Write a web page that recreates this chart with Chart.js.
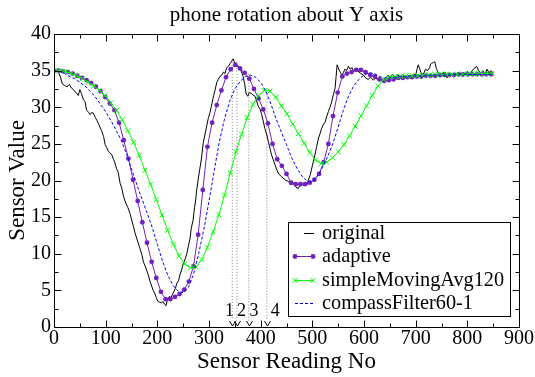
<!DOCTYPE html>
<html>
<head>
<meta charset="utf-8">
<script src="https://cdn.jsdelivr.net/npm/chart.js@4"></script>
<style>
  body { margin: 0; background: #fff; }
</style>
</head>
<body>
<canvas id="chart" width="535" height="377"></canvas>
<script>
// raw sensor trace, [reading no, value]
const originalPts = [
  [0,35.0],[5,34.9],[10,34.6],[13,34.0],[16,33.2],[20,33.0],[25,32.8],[30,33.1],[34,32.6],[38,32.4],
  [41,32.1],[45,31.8],[47,31.6],[50,32.4],[53,31.9],[57,31.0],[60,30.8],[63,29.6],[67,29.3],[70,29.0],
  [73,29.3],[76,29.2],[80,28.6],[83,28.2],[87,27.6],[92,26.8],[96,26.0],[99,24.9],[102,24.5],[105,24.0],
  [108,23.8],[112,23.5],[115,22.9],[118,22.4],[121,21.6],[124,21.2],[128,19.6],[131,19.0],[134,18.0],[137,17.3],
  [139,16.9],[143,16.3],[147,15.5],[152,14.2],[157,12.8],[161,11.9],[166,10.8],[170,9.9],[173,8.9],[177,8.2],
  [182,7.2],[186,6.2],[189,5.6],[192,5.0],[195,4.6],[198,4.0],[201,3.5],[204,3.4],[208,3.3],[211,3.5],
  [214,3.1],[217,2.9],[219,3.6],[221,4.0],[224,4.2],[226,3.9],[229,4.4],[232,4.8],[235,5.3],[238,6.0],
  [241,6.3],[244,7.2],[247,7.8],[250,8.6],[254,9.3],[257,10.0],[260,11.0],[263,12.0],[266,13.6],[269,14.5],
  [272,16.3],[274,17.2],[276,18.6],[279,20.1],[282,21.5],[285,22.8],[289,25.2],[292,26.2],[296,27.6],[299,28.6],
  [302,29.3],[306,30.6],[309,31.6],[312,32.4],[315,33.4],[318,33.8],[321,34.2],[324,34.3],[328,34.8],[331,34.6],
  [334,35.4],[338,35.6],[341,36.0],[344,36.3],[347,36.6],[350,35.9],[353,35.5],[356,35.7],[359,35.2],[362,35.0],
  [366,34.2],[369,33.2],[372,31.8],[375,31.5],[378,32.0],[382,31.9],[385,31.7],[389,31.5],[392,30.9],[395,30.2],
  [399,29.7],[402,29.0],[405,28.1],[408,27.1],[412,26.2],[415,25.3],[418,24.4],[421,23.5],[424,22.9],[428,22.1],
  [431,21.5],[434,21.0],[439,20.6],[444,20.3],[449,20.0],[454,19.9],[458,19.4],[463,19.6],[468,19.1],[473,18.9],
  [476,19.4],[479,19.6],[484,19.3],[489,19.4],[492,20.0],[496,20.8],[500,22.0],[505,23.5],[508,24.5],[512,25.8],
  [515,26.4],[518,27.1],[521,27.6],[525,28.0],[528,28.8],[531,29.4],[534,30.0],[537,30.6],[541,31.8],[544,32.6],
  [546,34.2],[548,35.8],[551,35.2],[554,34.8],[557,34.4],[560,34.7],[563,35.2],[566,35.0],[570,35.6],[573,35.2],
  [577,35.4],[580,34.9],[583,35.3],[586,35.3],[590,34.8],[594,34.6],[599,34.4],[603,34.0],[608,33.8],[613,34.1],
  [618,33.7],[623,34.0],[628,33.6],[632,33.9],[637,33.5],[642,34.0],[647,34.4],[651,34.0],[655,34.5],[660,34.1],
  [665,34.4],[670,34.2],[675,34.5],[680,34.0],[685,34.3],[690,34.1],[695,34.5],[700,34.4],[703,35.3],[705,35.8],
  [708,35.2],[711,34.6],[715,34.5],[719,35.2],[723,35.0],[727,35.4],[729,35.9],[731,36.0],[734,36.1],[737,36.2],
  [740,35.3],[744,34.6],[748,34.3],[753,34.7],[757,34.8],[761,34.0],[765,34.4],[770,34.6],[775,34.3],[780,34.5],
  [785,34.8],[790,34.2],[795,34.5],[800,34.9],[805,34.4],[810,35.1],[815,35.4],[818,35.6],[822,35.0],[826,34.6],
  [830,35.0],[834,34.4],[838,35.2],[842,34.7],[846,35.0],[850,34.7]
];

// filtered series, one value every *Step readings
const adaptiveStep = 9;
const adaptiveValues = [
  35.0, 35.0, 34.9, 34.8, 34.6, 34.3, 34.0, 33.7, 33.3, 32.8,
  32.2, 31.4, 30.5, 29.6, 27.9, 25.5, 23.0, 20.1, 17.2, 14.3,
  11.5, 8.9, 6.7, 4.8, 3.8, 3.8, 4.1, 4.5, 5.1, 6.2,
  8.3, 12.6, 18.7, 24.6, 27.9, 30.3, 32.3, 34.1, 35.2, 35.8,
  35.3, 34.7, 33.9, 32.5, 31.2, 29.7, 27.8, 25.0, 22.9, 22.0,
  20.9, 19.7, 19.5, 19.5, 19.5, 19.7, 20.1, 20.9, 22.5, 25.0,
  28.8, 32.0, 34.2, 34.6, 34.8, 35.1, 35.1, 34.8, 34.4, 34.2,
  33.8, 33.6, 33.7, 33.8, 34.0, 34.0, 34.1, 34.1, 34.2, 34.2,
  34.3, 34.3, 34.3, 34.4, 34.4, 34.4, 34.4, 34.5, 34.5, 34.5,
  34.5, 34.5, 34.5, 34.5, 34.5
];

const smaStep = 11;
const smaValues = [
  35.0, 35.0, 34.9, 34.6, 34.3, 33.9, 33.4, 32.9, 32.3, 31.6,
  30.6, 29.6, 28.3, 26.8, 25.2, 23.4, 21.4, 19.5, 17.4, 15.3,
  13.2, 11.3, 9.7, 8.6, 8.1, 8.2, 9.2, 10.9, 13.0, 15.3,
  18.0, 21.0, 23.9, 26.3, 28.6, 30.4, 31.6, 32.3, 32.2, 31.4,
  30.2, 29.1, 27.7, 26.4, 25.1, 23.8, 22.8, 22.3, 22.5, 23.1,
  23.9, 24.9, 26.1, 27.4, 28.8, 30.2, 31.6, 32.9, 33.8, 34.1,
  34.2, 34.2, 34.3, 34.3, 34.3, 34.4, 34.4, 34.5, 34.5, 34.5,
  34.5, 34.5, 34.5, 34.6, 34.6, 34.6, 34.6, 34.6
];

const compassStep = 10;
const compassValues = [
  35.0, 34.9, 34.6, 34.2, 33.9, 33.4, 32.9, 32.2, 31.4, 30.4,
  29.4, 28.2, 26.9, 25.5, 23.7, 21.6, 19.5, 17.5, 15.6, 13.6,
  11.3, 9.0, 7.1, 5.7, 4.9, 4.7, 5.4, 7.2, 10.0, 13.3,
  17.2, 21.3, 25.3, 28.4, 30.8, 32.5, 33.5, 34.2, 34.4, 34.1,
  33.4, 32.2, 30.4, 28.4, 26.6, 24.9, 23.1, 21.7, 20.6, 19.9,
  19.9, 20.6, 21.8, 23.3, 25.1, 27.3, 29.6, 31.5, 32.9, 33.8,
  34.4, 34.7, 34.6, 34.2, 34.0, 34.0, 34.1, 34.2, 34.2, 34.3,
  34.3, 34.3, 34.3, 34.4, 34.4, 34.4, 34.4, 34.4, 34.5, 34.5,
  34.5, 34.5, 34.5, 34.5, 34.5, 34.5
];

// peak markers 1..4
const markLabels = ['1', '2', '3', '4'];
const markX = [345, 354, 377, 412];
const markTop = [36.6, 35.8, 34.6, 32.4];
const markBottom = 0.9;
const markLabelX = [339.5, 363, 387, 428];
const markLabelY = 2.2;

const chartFont = "'Liberation Serif', 'Times New Roman', serif";

const toPoints = (values, step) => values.map((v, i) => ({ x: i * step, y: v }));

const seriesSets = [
  {
    label: 'original',
    data: originalPts.map(p => ({ x: p[0], y: p[1] })),
    borderColor: '#000000',
    borderWidth: 1,
    pointRadius: 0,
    order: 4,
  },
  {
    label: 'adaptive',
    data: toPoints(adaptiveValues, adaptiveStep),
    borderColor: '#7221bc',
    borderWidth: 1,
    pointStyle: 'circle',
    pointRadius: 2.4,
    pointBorderWidth: 0,
    pointBackgroundColor: '#7221bc',
    order: 3,
  },
  {
    label: 'simpleMovingAvg120',
    data: toPoints(smaValues, smaStep),
    borderColor: '#00ff00',
    borderWidth: 1,
    pointStyle: 'crossRot',
    pointRadius: 3.5,
    pointBorderWidth: 1,
    pointBorderColor: '#00ff00',
    order: 2,
  },
  {
    label: 'compassFilter60-1',
    data: toPoints(compassValues, compassStep),
    borderColor: '#0000ff',
    borderWidth: 1,
    borderDash: [3, 2],
    pointRadius: 0,
    order: 1,
  },
];

const markSets = markX.map((x, i) => ({
  label: 'mark ' + markLabels[i],
  data: [{ x: x, y: markTop[i] }, { x: x, y: markBottom }],
  borderColor: '#808080',
  borderWidth: 1,
  borderDash: [1, 2],
  pointRadius: 0,
  order: 10,
}));

// frame with inward ticks, peak arrows/numbers and the boxed legend
const decorations = {
  id: 'decorations',
  afterDatasetsDraw(chart) {
    const { ctx, chartArea: area, scales: { x, y } } = chart;
    ctx.save();

    // arrow heads + numbers
    ctx.strokeStyle = '#000';
    ctx.lineWidth = 1;
    const tip = y.getPixelForValue(0);
    markX.forEach(v => {
      const px = Math.round(x.getPixelForValue(v)) + 0.5;
      ctx.beginPath();
      ctx.moveTo(px - 3, tip - 6);
      ctx.lineTo(px, tip - 1);
      ctx.lineTo(px + 3, tip - 6);
      ctx.stroke();
    });
    ctx.fillStyle = '#000';
    ctx.font = '18px ' + chartFont;
    ctx.textAlign = 'center';
    ctx.textBaseline = 'middle';
    markLabels.forEach((t, i) => {
      ctx.fillText(t, x.getPixelForValue(markLabelX[i]), y.getPixelForValue(markLabelY));
    });

    // frame
    const L = Math.round(area.left) + 0.5;
    const R = Math.round(area.right) + 0.5;
    const T = Math.round(area.top) + 0.5;
    const B = Math.round(area.bottom) + 0.5;
    ctx.strokeStyle = '#000';
    ctx.strokeRect(L, T, R - L, B - T);
    ctx.beginPath();
    for (let v = x.min; v <= x.max; v += 50) {
      const px = Math.round(x.getPixelForValue(v)) + 0.5;
      const len = v % 100 === 0 ? 7 : 4;
      ctx.moveTo(px, B); ctx.lineTo(px, B - len);
      ctx.moveTo(px, T); ctx.lineTo(px, T + len);
    }
    for (let v = y.min; v <= y.max; v += 2.5) {
      const py = Math.round(y.getPixelForValue(v)) + 0.5;
      const len = v % 5 === 0 ? 7 : 4;
      ctx.moveTo(L, py); ctx.lineTo(L + len, py);
      ctx.moveTo(R, py); ctx.lineTo(R - len, py);
    }
    ctx.stroke();

    // legend
    const box = { left: 288.5, top: 222.5, right: 510.5, bottom: 316.5 };
    ctx.fillStyle = '#fff';
    ctx.fillRect(box.left, box.top, box.right - box.left, box.bottom - box.top);
    ctx.strokeStyle = '#000';
    ctx.strokeRect(box.left, box.top, box.right - box.left, box.bottom - box.top);
    ctx.font = '20.3px ' + chartFont;
    ctx.textAlign = 'left';
    ctx.textBaseline = 'middle';
    const symStart = [304, 294, 294, 295];
    seriesSets.forEach((ds, i) => {
      const ry = Math.round(233.3 + i * 23.1) + 0.5;
      ctx.save();
      ctx.strokeStyle = ds.borderColor;
      ctx.lineWidth = 1;
      ctx.setLineDash(ds.borderDash || []);
      ctx.beginPath();
      ctx.moveTo(symStart[i], ry);
      ctx.lineTo(314, ry);
      ctx.stroke();
      ctx.setLineDash([]);
      if (ds.pointRadius > 0) {
        ctx.fillStyle = ds.pointBackgroundColor || ds.borderColor;
        ctx.strokeStyle = ds.pointBorderColor || ds.borderColor;
        const opts = { pointStyle: ds.pointStyle, radius: ds.pointRadius, borderWidth: ds.pointBorderWidth, rotation: 0 };
        [295, 313].forEach(px => Chart.helpers.drawPoint(ctx, opts, px, ry));
      }
      ctx.restore();
      ctx.fillStyle = '#000';
      ctx.fillText(ds.label, 322, ry);
    });

    ctx.restore();
  }
};

new Chart(document.getElementById('chart').getContext('2d'), {
  type: 'line',
  data: { datasets: seriesSets.concat(markSets) },
  options: {
    responsive: false,
    animation: false,
    layout: { padding: { left: 0, top: 0, right: 16, bottom: 0 } },
    elements: { line: { tension: 0 } },
    plugins: {
      legend: { display: false },
      tooltip: { enabled: false },
      title: {
        display: true,
        text: 'phone rotation about Y axis',
        fullSize: false,
        color: '#000',
        font: { family: chartFont, size: 21, weight: 'normal' },
        padding: { top: 3, bottom: 5.8 },
      },
    },
    scales: {
      x: {
        type: 'linear',
        min: 0,
        max: 900,
        grid: { display: false, drawTicks: false },
        border: { display: false },
        ticks: {
          stepSize: 100, padding: 0, maxRotation: 0, autoSkip: false,
          color: '#000', font: { family: chartFont, size: 20 },
        },
        title: {
          display: true, text: 'Sensor Reading No', color: '#000',
          font: { family: chartFont, size: 23 }, padding: { top: 0, bottom: 1.7 },
        },
        afterFit(scale) { scale.height = 50; },
      },
      y: {
        min: 0,
        max: 40,
        grid: { display: false, drawTicks: false },
        border: { display: false },
        ticks: {
          stepSize: 5, padding: 3,
          color: '#000', font: { family: chartFont, size: 20 },
        },
        title: {
          display: true, text: 'Sensor Value', color: '#000',
          font: { family: chartFont, size: 23 }, padding: { top: 4.5, bottom: 0 },
        },
        afterFit(scale) { scale.width = 54; },
      },
    },
  },
  plugins: [decorations],
});
</script>
</body>
</html>
